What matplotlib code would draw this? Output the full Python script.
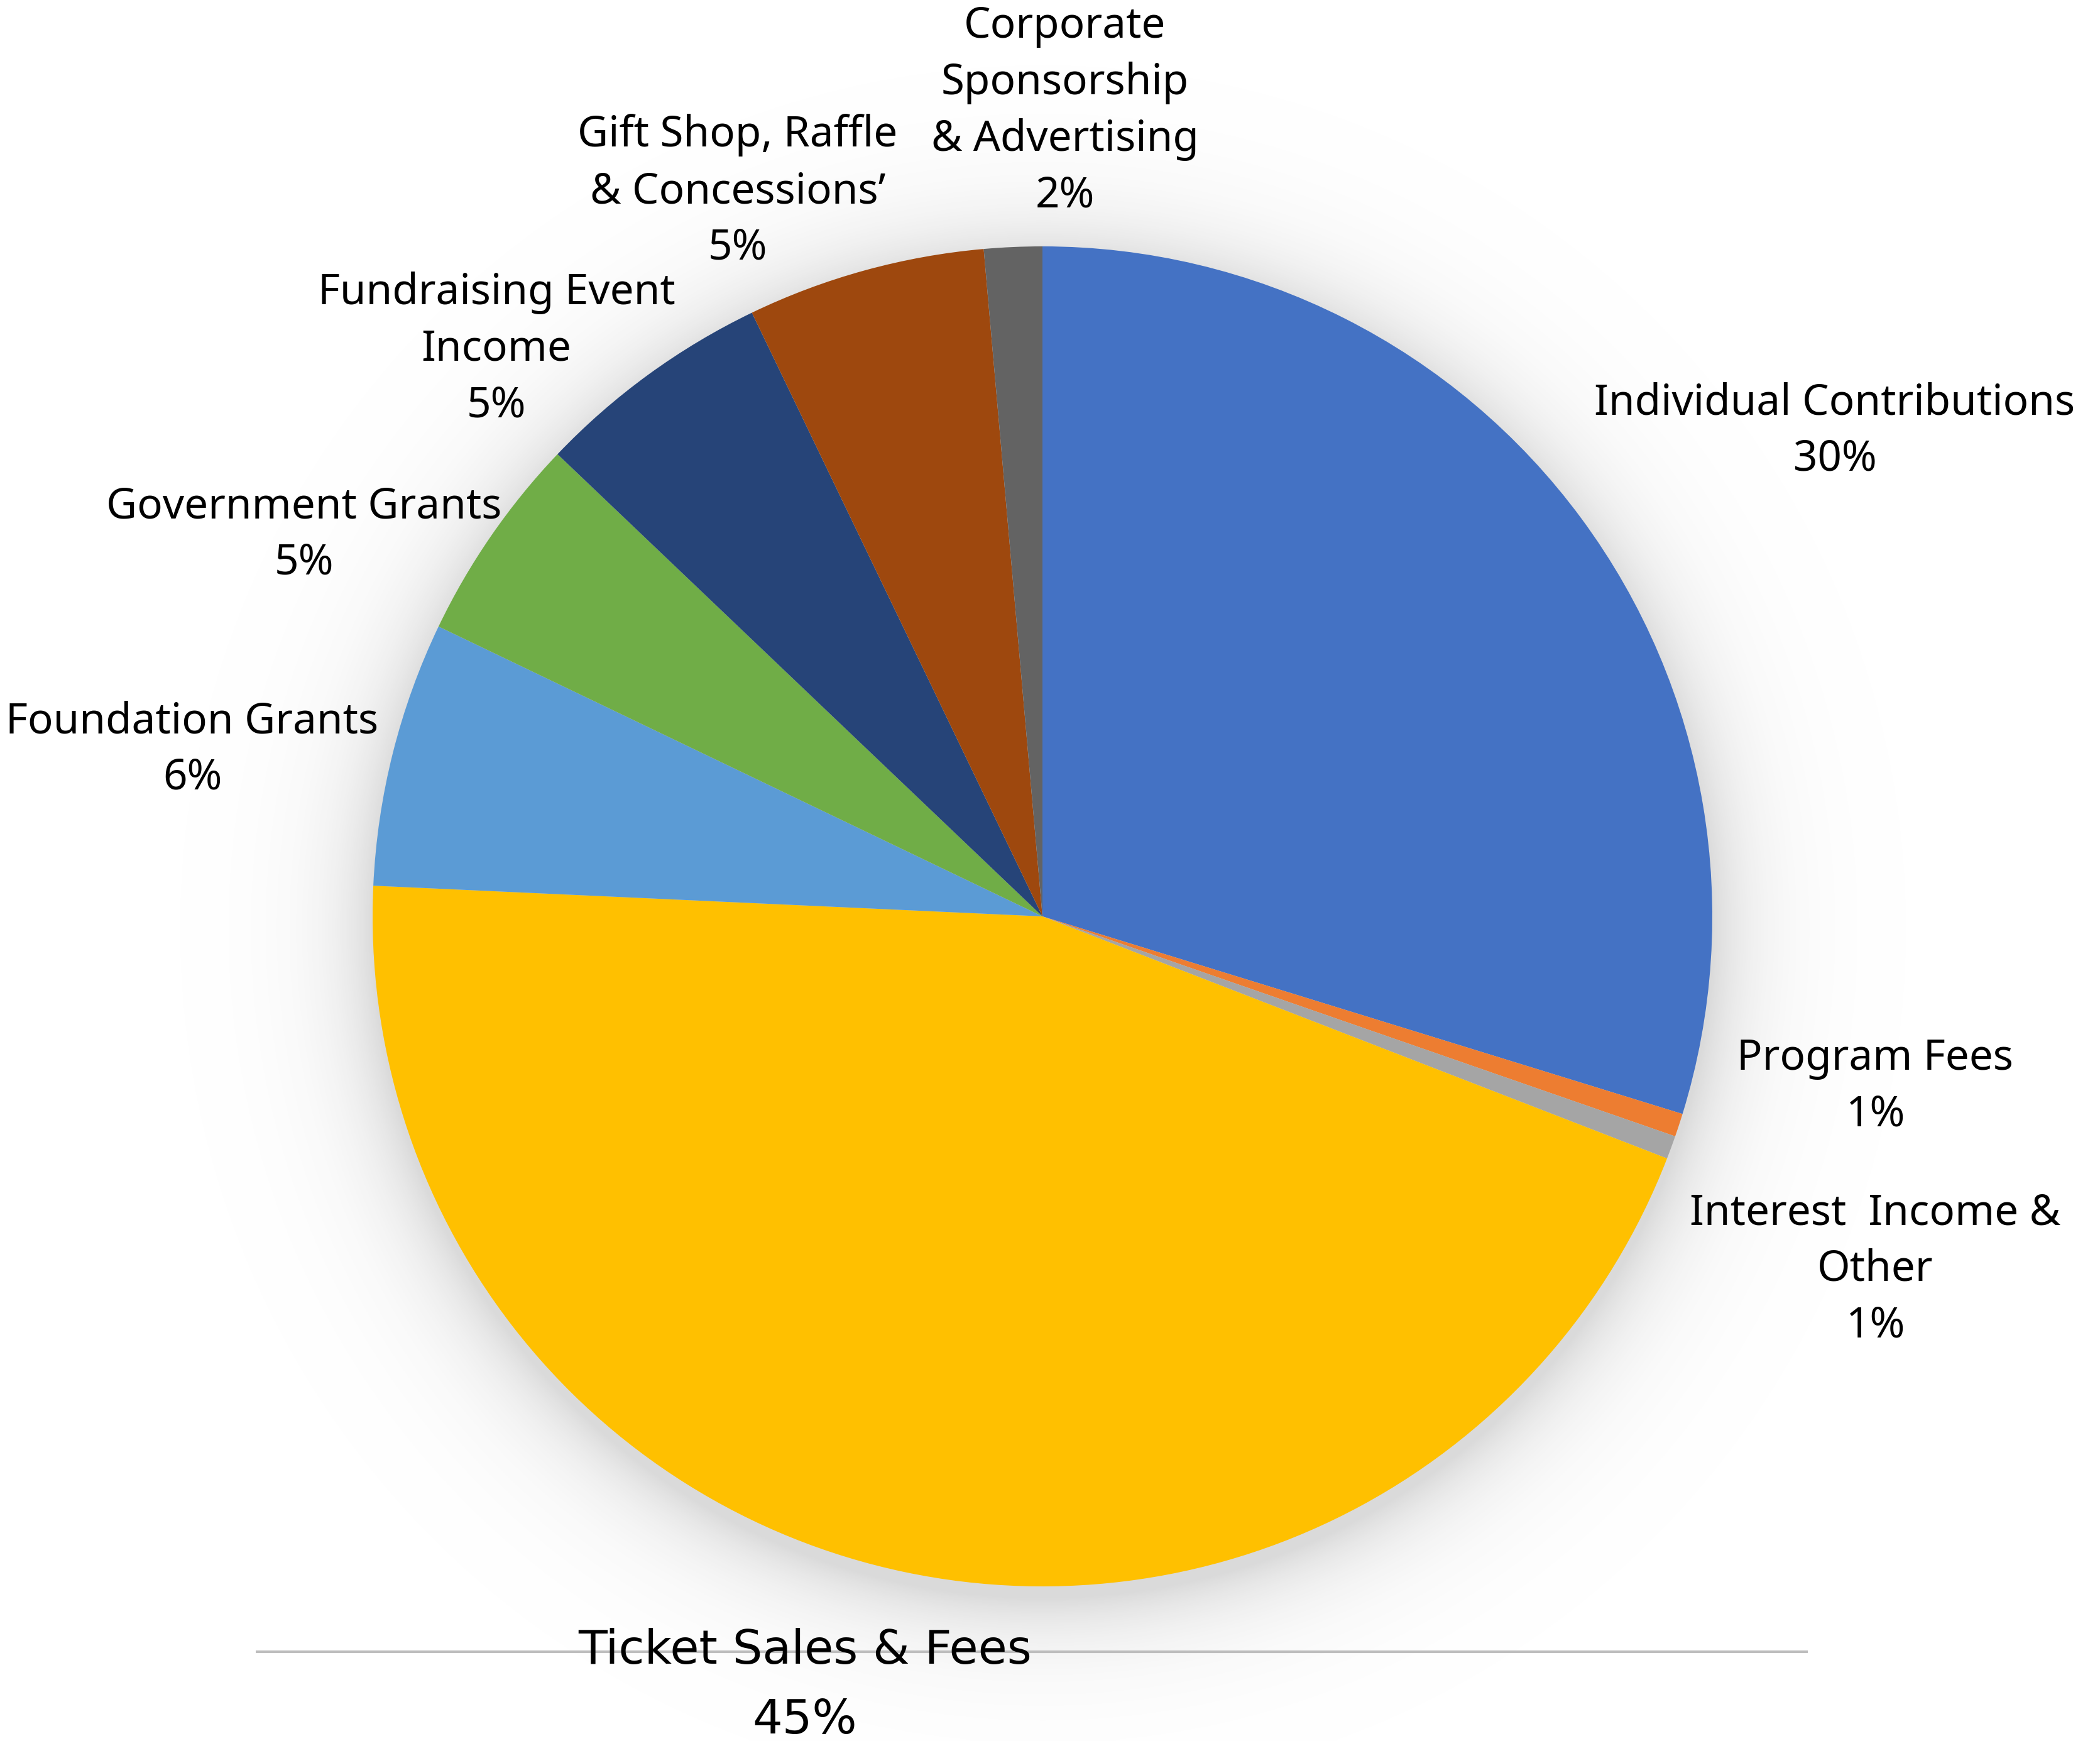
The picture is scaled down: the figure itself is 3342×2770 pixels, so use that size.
import numpy as np
import matplotlib.pyplot as plt

W, H = 3342, 2770

# slices, clockwise from 12 o'clock
labels = ["Individual Contributions", "Program Fees", "Interest  Income &\nOther",
          "Ticket Sales & Fees", "Foundation Grants", "Government Grants",
          "Fundraising Event\nIncome", "Gift Shop, Raffle\n& Concessions\u2019",
          "Corporate\nSponsorship\n& Advertising"]
shares = [29.8, 0.56, 0.56, 44.9, 6.4, 5.0, 5.75, 5.75, 1.4]
pct_text = ["30%", "1%", "1%", "45%", "6%", "5%", "5%", "5%", "2%"]
colors = ["#4472C4", "#ED7D31", "#A5A5A5", "#FFC000", "#5B9BD5",
          "#70AD47", "#264478", "#9E480E", "#636363"]

# label block centres in pixels (x, y from top)
label_pos = [(2920, 686), (2984, 1729), (2984, 2020), (1281, 2682), (306, 1193),
             (484, 851), (790, 556), (1174, 305), (1695, 177)]

cx, cy, r = 1659, 1458, 1066

fig = plt.figure(figsize=(W / 100, H / 100), dpi=100)
ax = fig.add_axes([0, 0, 1, 1])

# soft shadow round the pie
yy, xx = np.mgrid[0:H:4, 0:W:4]
d = np.hypot(xx - cx, yy - (cy + 18))
alpha = np.clip(0.32 * np.exp(-(d - r) / 70.0), 0, 0.32)
img = np.zeros(xx.shape + (4,))
img[..., :3] = 0.55
img[..., 3] = alpha
ax.imshow(img, extent=(0, W, 0, H), origin="upper", zorder=0, interpolation="bilinear")

ax.pie(shares, colors=colors, startangle=90, counterclock=False,
       center=(cx, H - cy), radius=r, wedgeprops=dict(linewidth=0), frame=True)

ax.hlines(H - 2628, 407, 2877, color="#BDBDBD", lw=3, zorder=3)

for i in range(len(labels)):
    x, y = label_pos[i]
    s = labels[i] + "\n" + pct_text[i]
    if i == 3:
        ax.text(x, H - y, s, ha="center", va="center", fontsize=54,
                family="DejaVu Sans", linespacing=1.65, zorder=4)
    else:
        ax.text(x, H - y, s, ha="center", va="center", fontsize=48.5,
                family="Noto Sans", linespacing=1.42, zorder=4)

ax.set_xlim(0, W)
ax.set_ylim(0, H)
ax.set_aspect("equal")
ax.axis("off")

fig.savefig("out.png", dpi=100, facecolor="white")
